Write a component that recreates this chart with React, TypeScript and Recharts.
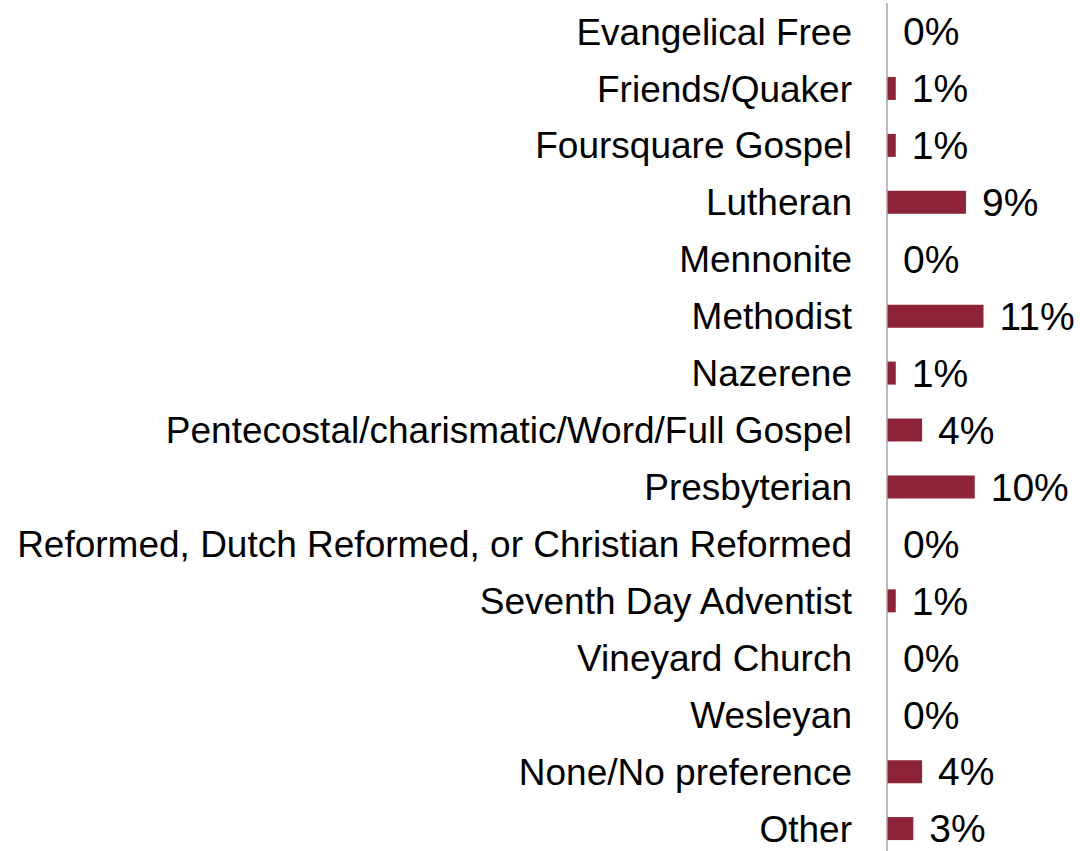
import React from "react";
import { BarChart, Bar, XAxis, YAxis, LabelList } from "recharts";

const categories = [
  "Evangelical Free",
  "Friends/Quaker",
  "Foursquare Gospel",
  "Lutheran",
  "Mennonite",
  "Methodist",
  "Nazerene",
  "Pentecostal/charismatic/Word/Full Gospel",
  "Presbyterian",
  "Reformed, Dutch Reformed, or Christian Reformed",
  "Seventh Day Adventist",
  "Vineyard Church",
  "Wesleyan",
  "None/No preference",
  "Other",
];

const percents = [0, 1, 1, 9, 0, 11, 1, 4, 10, 0, 1, 0, 0, 4, 3];

const data = categories.map((name, i) => ({ name, value: percents[i] }));

const FONT = "'Liberation Sans', Arial, sans-serif";

export default function App() {
  return (
    <div style={{ position: "absolute", left: 0, top: 0 }}>
      <BarChart
        width={1080}
        height={857}
        data={data}
        layout="vertical"
        margin={{ top: 3, right: 0, bottom: 0, left: 0 }}
        barCategoryGap={0}
      >
        <XAxis type="number" domain={[0, 22]} hide />
        <YAxis
          type="category"
          dataKey="name"
          width={887}
          tickSize={0}
          tickMargin={35}
          tickLine={false}
          axisLine={{ stroke: "#A6A6A6", strokeWidth: 1.5 }}
          interval={0}
          tick={{ fill: "#000000", fontSize: 37, fontFamily: FONT }}
        />
        <Bar
          dataKey="value"
          fill="#8C2337"
          barSize={23}
          minPointSize={0.01}
          isAnimationActive={false}
        >
          <LabelList
            dataKey="value"
            position="right"
            offset={16}
            formatter={(v: number) => `${v}%`}
            style={{ fill: "#000000", fontSize: 39, fontFamily: FONT }}
          />
        </Bar>
      </BarChart>
    </div>
  );
}
